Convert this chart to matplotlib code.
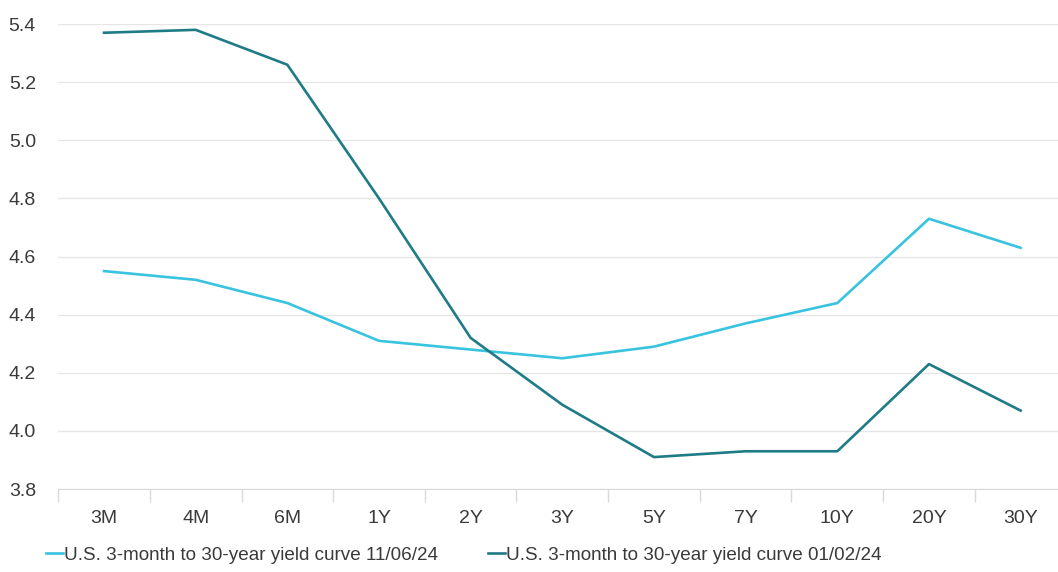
import matplotlib.pyplot as plt

plt.rcParams['font.family'] = ['Liberation Sans', 'DejaVu Sans']

tenors = ['3M', '4M', '6M', '1Y', '2Y', '3Y', '5Y', '7Y', '10Y', '20Y', '30Y']
curve_nov = [4.55, 4.52, 4.44, 4.31, 4.28, 4.25, 4.29, 4.37, 4.44, 4.73, 4.63]
curve_jan = [5.37, 5.38, 5.26, 4.80, 4.32, 4.09, 3.91, 3.93, 3.93, 4.23, 4.07]
label_nov = 'U.S. 3-month to 30-year yield curve 11/06/24'
label_jan = 'U.S. 3-month to 30-year yield curve 01/02/24'

fig = plt.figure(figsize=(10.58, 5.72), dpi=100)
ax = fig.add_axes([0.055, 0.145, 0.953, 0.813])

x = range(len(tenors))
ax.plot(x, curve_nov, color='#38c3de', lw=1.9, label=label_nov)
ax.plot(x, curve_jan, color='#1f7b86', lw=1.9, label=label_jan)

ax.set_ylim(3.8, 5.4)
ax.set_yticks([3.8, 4.0, 4.2, 4.4, 4.6, 4.8, 5.0, 5.2, 5.4])
ax.set_yticklabels([f'{v:.1f}' for v in ax.get_yticks()])
ax.set_xlim(-0.5, 10.5)
ax.set_xticks(list(x))
ax.set_xticklabels(tenors)
ax.set_xticks([i + 0.5 for i in range(-1, 11)], minor=True)

ax.grid(axis='y', color='#e6e6e6', lw=1)
ax.set_axisbelow(True)
for s in ['left', 'right', 'top']:
    ax.spines[s].set_visible(False)
ax.spines['bottom'].set_color('#d9d9d9')
ax.tick_params(axis='y', length=0, labelsize=14, labelcolor='#3a3a3a', pad=16)
ax.tick_params(axis='x', which='major', length=0, labelsize=14, labelcolor='#3a3a3a', pad=15)
ax.tick_params(axis='x', which='minor', length=9, color='#d9d9d9', width=1)

fig.legend(loc='lower left', bbox_to_anchor=(0.027, -0.015), ncol=2, frameon=False,
           fontsize=13.6, handlelength=0.9, handletextpad=0.1, columnspacing=2.6,
           labelcolor='#3a3a3a')

fig.savefig('out.png', dpi=100)
